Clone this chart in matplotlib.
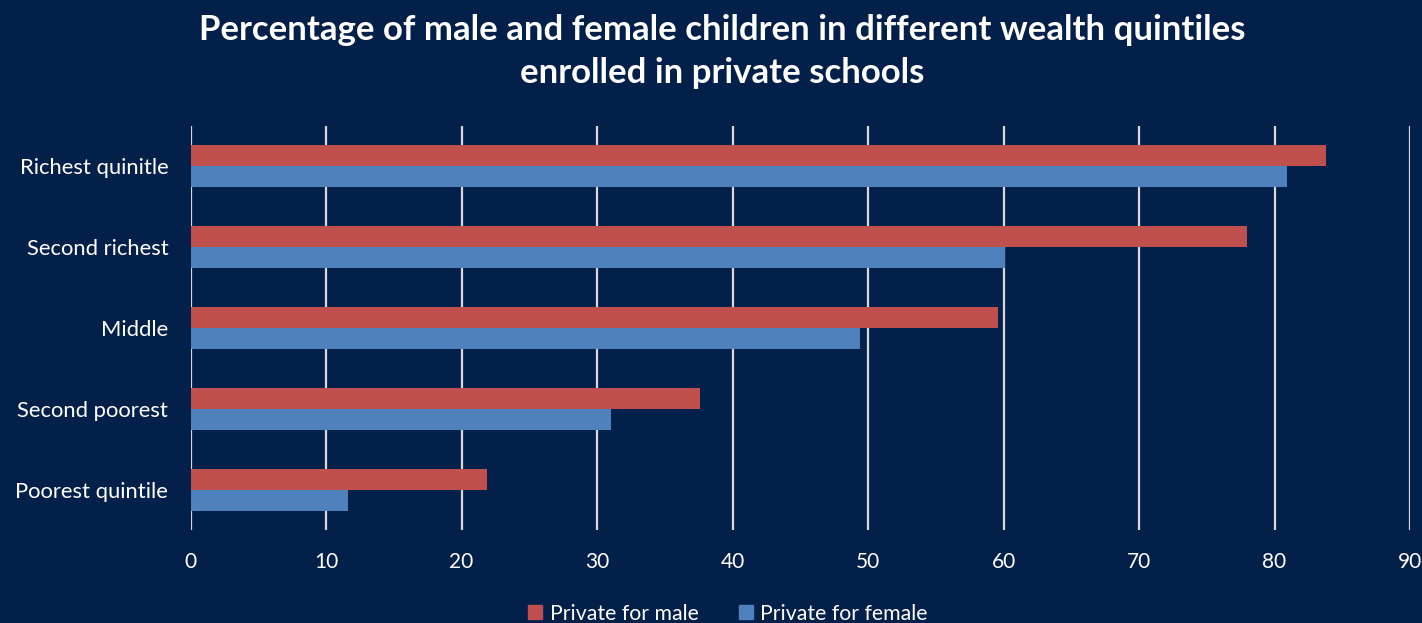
import numpy as np
import matplotlib.pyplot as plt
from matplotlib.patches import Patch

categories = ["Poorest quintile", "Second poorest", "Middle", "Second richest", "Richest quinitle"]
male = [21.9, 37.6, 59.6, 78.0, 83.8]
female = [11.6, 31.0, 49.4, 60.1, 80.9]

bg = "#03204a"
red = "#c0504d"
blue = "#4f81bd"
grid_col = "#d9d9d9"

plt.rcParams["font.family"] = ["Lato", "DejaVu Sans"]

fig = plt.figure(figsize=(14.22, 6.23), dpi=100, facecolor=bg)
ax = fig.add_axes([0.134, 0.149, 0.8576, 0.6487])
ax.set_facecolor(bg)

y = np.arange(len(categories))
h = 0.26
ax.barh(y + h / 2, male, height=h, color=red, label="Private for male", zorder=3)
ax.barh(y - h / 2, female, height=h, color=blue, label="Private for female", zorder=3)

ax.set_xlim(0, 90)
ax.set_ylim(-0.5, len(categories) - 0.5)
ax.set_xticks(range(0, 91, 10))
ax.set_yticks(y)
ax.set_yticklabels(categories)
ax.xaxis.grid(True, color=grid_col, linewidth=1.6, zorder=1)
ax.tick_params(axis="x", length=0, colors="white", labelsize=15, pad=16)
ax.tick_params(axis="y", length=0, colors="white", labelsize=15.8, pad=16)
for s in ax.spines.values():
    s.set_visible(False)

fig.text(0.508, 0.978, "Percentage of male and female children in different wealth quintiles\nenrolled in private schools",
         ha="center", va="top", color="white", fontsize=25, fontweight="bold", linespacing=1.45)

handles = [Patch(color=red, label="Private for male"), Patch(color=blue, label="Private for female")]
fig.legend(handles=handles, loc="center", bbox_to_anchor=(0.512, 0.015), ncol=2, frameon=False,
           fontsize=15.3, labelcolor="white", handlelength=0.65, handleheight=0.65, handletextpad=0.35,
           columnspacing=1.9)

fig.savefig("out.png", dpi=100, facecolor=bg)
